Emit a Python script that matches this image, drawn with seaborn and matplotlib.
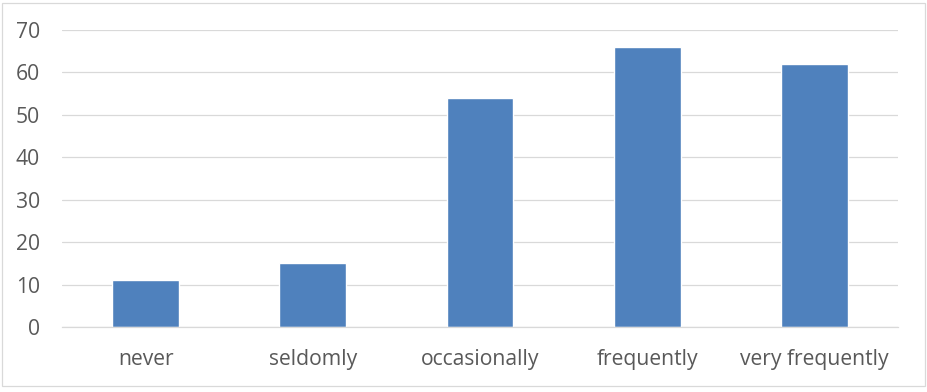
import pandas as pd
import seaborn as sns
import matplotlib.pyplot as plt
from matplotlib.patches import Rectangle

# Chart values
categories = ['never', 'seldomly', 'occasionally', 'frequently', 'very frequently']
counts = [11, 15, 54, 66, 62]
y_ticks = [0, 10, 20, 30, 40, 50, 60, 70]

data = pd.DataFrame({'category': categories, 'count': counts})

sns.set_style('white')
plt.rcParams['font.family'] = ['Open Sans', 'DejaVu Sans']

fig = plt.figure(figsize=(9.28, 3.92), dpi=100)
ax = fig.add_axes([62 / 928, 1 - 327 / 392, (898 - 62) / 928, (327 - 30) / 392])

sns.barplot(data=data, x='category', y='count', color='#4F81BD', saturation=1,
            width=0.4, ax=ax)

ax.set_ylim(0, 70)
ax.set_xlim(-0.5, len(categories) - 0.5)
ax.set_yticks(y_ticks)
ax.set_xlabel('')
ax.set_ylabel('')
ax.yaxis.grid(True, color='#D9D9D9', linewidth=0.9)
ax.set_axisbelow(True)
for side in ['left', 'right', 'top']:
    ax.spines[side].set_visible(False)
ax.spines['bottom'].set_color('#D9D9D9')
ax.spines['bottom'].set_linewidth(0.9)
ax.tick_params(axis='both', length=0, labelsize=15.2, labelcolor='#595959')
ax.tick_params(axis='y', pad=16)
ax.tick_params(axis='x', pad=15.5)

# outer chart border
fig.patches.append(Rectangle((2 / 928, 1 - 386 / 392), 923 / 928, 383 / 392,
                             transform=fig.transFigure, fill=False,
                             edgecolor='#D9D9D9', linewidth=0.9))

fig.savefig('out.png', dpi=100)
